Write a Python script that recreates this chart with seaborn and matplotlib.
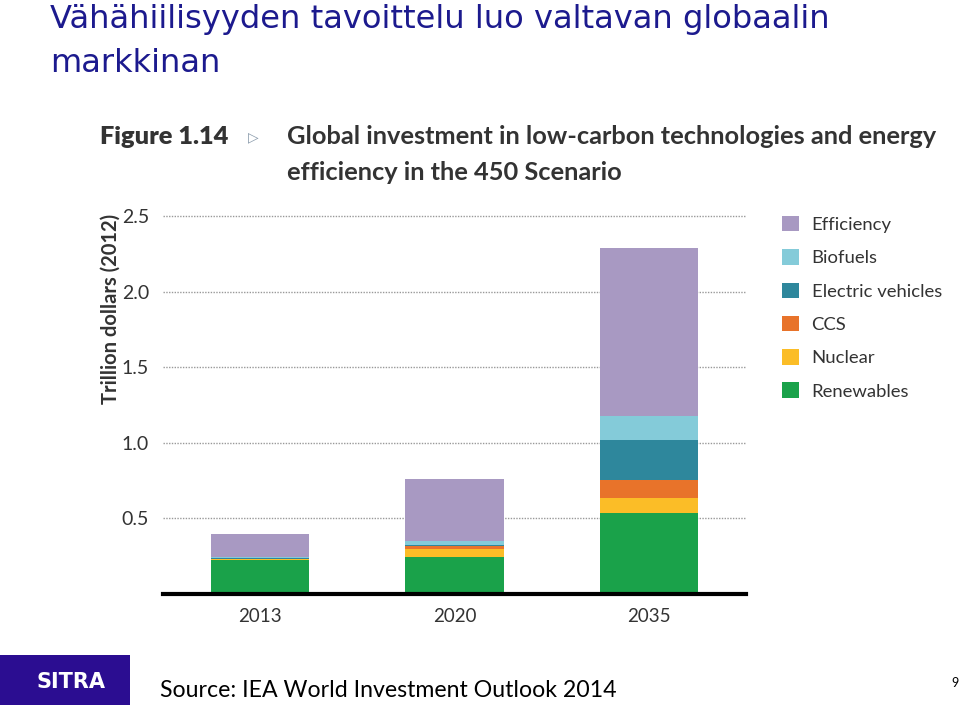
import matplotlib
matplotlib.use("Agg")
import matplotlib.pyplot as plt
import seaborn as sns
import pandas as pd
import numpy as np
from matplotlib.patches import Patch, Rectangle

sns.set_theme(style="white")
plt.rcParams['font.family'] = ['Lato', 'DejaVu Sans']

# ---- data ----
years = ["2013", "2020", "2035"]
renewables = [0.222, 0.247, 0.538]
nuclear = [0.010, 0.053, 0.100]
ccs = [0.000, 0.016, 0.115]
electric_vehicles = [0.003, 0.006, 0.265]
biofuels = [0.010, 0.029, 0.161]
efficiency = [0.150, 0.411, 1.110]

series_names = ["Efficiency", "Biofuels", "Electric vehicles", "CCS", "Nuclear", "Renewables"]
series_values = [efficiency, biofuels, electric_vehicles, ccs, nuclear, renewables]
colors = ["#A899C2", "#84CBD9", "#2E879C", "#E8732A", "#FBBD27", "#1AA24A"]
yticks = [0.5, 1.0, 1.5, 2.0, 2.5]
ytick_labels = ["0.5", "1.0", "1.5", "2.0", "2.5"]

W, H = 960, 708
fig = plt.figure(figsize=(W / 100, H / 100), dpi=100)
fig.patch.set_facecolor("white")

ax = fig.add_axes([163 / W, 1 - 594 / H, (746 - 163) / W, (594 - 214) / H])

# cumulative stacks (draw totals from top layer down so lower layers overlay)
bottom_up = series_values[::-1]
cum = np.cumsum(np.array(bottom_up), axis=0)
names_bu = series_names[::-1]
colors_bu = colors[::-1]
for i in range(len(names_bu) - 1, -1, -1):
    df = pd.DataFrame({"year": years, "value": cum[i]})
    sns.barplot(data=df, x="year", y="value", color=colors_bu[i], width=0.505,
                saturation=1, ax=ax, zorder=3, linewidth=0, errorbar=None)

ax.set_xlim(-0.5, 2.5)
ax.set_ylim(0, 2.515)
ax.set_yticks(yticks)
ax.set_yticklabels(ytick_labels, fontsize=14, color="#333333")
ax.tick_params(axis="y", length=0, pad=10)
ax.set_xticks(range(len(years)))
ax.set_xticklabels(years, fontsize=13.5, color="#333333")
ax.tick_params(axis="x", length=0, pad=10)
ax.set_xticks([-0.5, 0.5, 1.5, 2.5], minor=True)
ax.tick_params(axis="x", which="minor", length=7, width=1.2, color="black", direction="out")
ax.set_xlabel("")
ax.set_ylabel("Trillion dollars (2012)", fontsize=14.5, fontweight="bold",
              color="#333333", loc="top", labelpad=1)

for s in ["top", "right", "left"]:
    ax.spines[s].set_visible(False)
ax.spines["bottom"].set_linewidth(3)
ax.spines["bottom"].set_color("black")
ax.spines["bottom"].set_zorder(5)
ax.grid(axis="y", linestyle=(0, (1, 1)), color="#999999", linewidth=1, zorder=0)
ax.grid(axis="x", visible=False)
ax.set_axisbelow(True)
ax.set_facecolor("white")

# legend
handles = [Patch(facecolor=c, edgecolor="none") for c in colors]
fig.legend(handles, series_names, loc="upper left", bbox_to_anchor=(782 / W, 1 - 216 / H),
           frameon=False, fontsize=13.3, handlelength=0.9, handleheight=0.9,
           labelspacing=0.88, handletextpad=0.7, labelcolor="#333333", borderpad=0,
           borderaxespad=0)

# chart heading
head_font = ["Lato", "DejaVu Sans"]
fig.text(100 / W, 1 - 137 / H, "Figure 1.14", fontsize=18.3, fontweight="heavy",
         color="#333333", va="center", ha="left", family=head_font)
fig.text(248 / W, 1 - 137 / H, "\u25B7", fontsize=10, color="#8899AA", va="center", ha="left",
         family=["DejaVu Sans"])
fig.text(287 / W, 1 - 137 / H, "Global investment in low-carbon technologies and energy",
         fontsize=18.3, fontweight="bold", color="#333333", va="center", ha="left",
         family=head_font)
fig.text(287 / W, 1 - 172 / H, "efficiency in the 450 Scenario",
         fontsize=18.3, fontweight="bold", color="#333333", va="center", ha="left",
         family=head_font)

# slide title
title_color = "#1C1A8E"
fig.text(50 / W, 1 - 28 / H, "Vähähiilisyyden tavoittelu luo valtavan globaalin",
         fontsize=23.1, color=title_color, va="baseline", ha="left", family=["DejaVu Sans"])
fig.text(50 / W, 1 - 72 / H, "markkinan",
         fontsize=23.1, color=title_color, va="baseline", ha="left", family=["DejaVu Sans"])

# footer
fig.patches.append(Rectangle((0, 1 - 705 / H), 130 / W, 50 / H, transform=fig.transFigure,
                             facecolor="#2B0D91", edgecolor="none", zorder=1))
fig.text(71 / W, 1 - 682 / H, "SITRA", fontsize=15, fontweight="bold", color="white",
         va="center", ha="center", zorder=2, family=["DejaVu Sans"])
fig.text(160 / W, 1 - 697 / H, "Source: IEA World Investment Outlook 2014",
         fontsize=16.7, color="black", va="baseline", ha="left")
fig.text(955 / W, 1 - 683 / H, "9", fontsize=9, color="black", va="center", ha="center")

fig.savefig("out.png", dpi=100, facecolor="white")
